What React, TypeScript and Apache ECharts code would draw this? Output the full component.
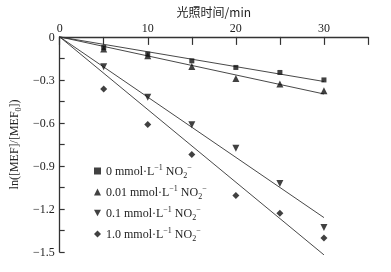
import React, { useEffect, useRef } from "react";
import * as echarts from "echarts";

const times = [5, 10, 15, 20, 25, 30];
const seriesNames = ["0", "0.01", "0.1", "1.0"];
const s0 = [-0.074, -0.12, -0.167, -0.213, -0.248, -0.3];
const s001 = [-0.085, -0.132, -0.206, -0.29, -0.328, -0.375];
const s01 = [-0.208, -0.42, -0.613, -0.776, -1.023, -1.33];
const s1 = [-0.363, -0.611, -0.82, -1.106, -1.229, -1.403];
const fitX = [0, 30];
const fitEnds = [-0.311, -0.398, -1.26, -1.52];
const xTickLabels = [0, 10, 20, 30];
const yTickLabels = [0, -0.3, -0.6, -0.9, -1.2, -1.5];

const serif = "'Liberation Serif', 'DejaVu Serif', serif";
const invTri = "path://M0,0 L10,0 L5,9 Z";

export default function App() {
  const ref = useRef<HTMLDivElement>(null);
  useEffect(() => {
    if (!ref.current) return;
    const chart = echarts.init(ref.current, null, { renderer: "svg" });
    const values = [s0, s001, s01, s1];
    const symbols = ["rect", "triangle", invTri, "diamond"];
    const sizes = [5, 7, 7, 7];
    const scatter = values.map((vals, i) => ({
      name: seriesNames[i],
      type: "scatter",
      data: times.map((t, j) => [t, vals[j]]),
      symbol: symbols[i],
      symbolSize: sizes[i],
      itemStyle: { color: "#111" },
      z: 3,
    }));
    const fits = fitEnds.map((end, i) => ({
      name: "fit" + i,
      type: "line",
      data: [
        [fitX[0], 0],
        [fitX[1], end],
      ],
      symbol: "none",
      clip: false,
      lineStyle: { color: "#333", width: 0.9 },
      z: 2,
    }));
    const txt = { fontFamily: serif, color: "#222" };
    chart.setOption({
      animation: false,
      grid: { left: 55, top: 36, right: 23, bottom: 20 },
      legend: {
        data: seriesNames.map((n, i) => ({ name: n, icon: symbols[i] })),
        orient: "vertical",
        left: 94,
        top: 163,
        itemWidth: 7,
        itemHeight: 7,
        itemGap: 5,
        padding: 0,
        formatter: (n: string) =>
          `{n|${n} mmol·L}{sup|−1}{n| NO}{sub|2}{sup|−}`,
        textStyle: {
          ...txt,
          fontSize: 12,
          rich: {
            n: { ...txt, fontSize: 12, lineHeight: 16 },
            sup: { ...txt, fontSize: 8, verticalAlign: "top", lineHeight: 16 },
            sub: { ...txt, fontSize: 8, verticalAlign: "bottom", lineHeight: 14 },
          },
        },
      },
      xAxis: {
        type: "value",
        position: "top",
        min: 0,
        max: 35,
        interval: 5,
        name: "光照时间/min",
        nameLocation: "middle",
        nameGap: 19,
        nameTextStyle: {
          fontFamily: "'Noto Sans CJK SC', sans-serif",
          fontSize: 12,
          color: "#222",
        },
        axisLine: { lineStyle: { color: "#333", width: 1.3 } },
        axisTick: { inside: true, length: 8, lineStyle: { color: "#333", width: 1.2 } },
        axisLabel: {
          ...txt,
          fontSize: 12,
          margin: 3,
          formatter: (v: number) =>
            xTickLabels.includes(v) ? String(v) : "",
        },
        splitLine: { show: false },
      },
      yAxis: {
        type: "value",
        min: -1.5,
        max: 0,
        interval: 0.15,
        name: "{n|ln([MEF]/[MEF}{sub|0}{n|])}",
        nameLocation: "middle",
        nameRotate: 90,
        nameGap: 37,
        nameTextStyle: {
          ...txt,
          fontSize: 12,
          rich: {
            n: { ...txt, fontSize: 12, lineHeight: 16 },
            sub: { ...txt, fontSize: 8, verticalAlign: "bottom", lineHeight: 14 },
          },
        },
        axisLine: { lineStyle: { color: "#333", width: 1.3 } },
        axisTick: { inside: true, length: 5, lineStyle: { color: "#333", width: 1.2 } },
        axisLabel: {
          ...txt,
          fontSize: 12,
          margin: 5,
          formatter: (v: number) => {
            const m = yTickLabels.find((t) => Math.abs(t - v) < 1e-6);
            if (m === undefined) return "";
            return m === 0 ? "0" : "−" + Math.abs(m).toFixed(1);
          },
        },
        splitLine: { show: false },
      },
      series: [...fits, ...scatter],
    });
    return () => chart.dispose();
  }, []);
  return (
    <div
      ref={ref}
      style={{ position: "fixed", left: 0, top: 0, width: 391, height: 272 }}
    />
  );
}
